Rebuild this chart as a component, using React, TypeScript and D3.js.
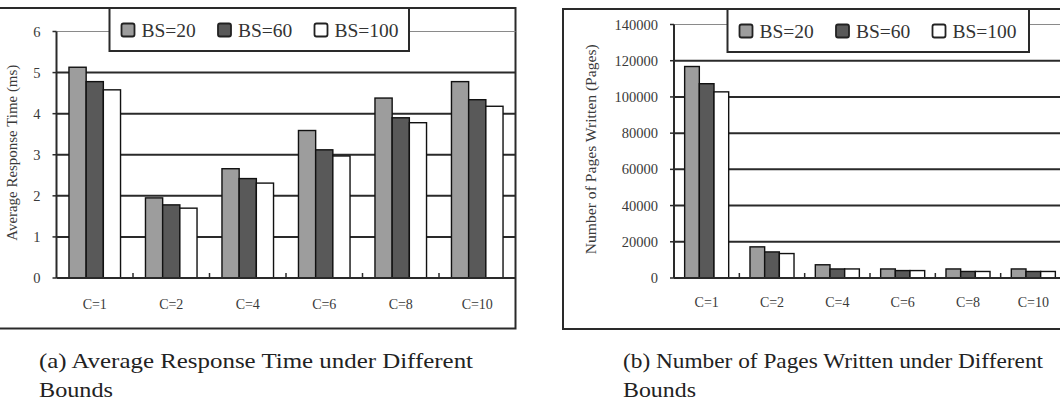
import React from "react";
import * as d3 from "d3";

// categories shared by both charts
const categories = ["C=1", "C=2", "C=4", "C=6", "C=8", "C=10"];
const seriesNames = ["BS=20", "BS=60", "BS=100"];
const seriesFills = ["#9d9d9d", "#595959", "#ffffff"];

// (a) average response time in ms
const responseBS20 = [5.13, 1.95, 2.66, 3.59, 4.38, 4.78];
const responseBS60 = [4.78, 1.78, 2.42, 3.12, 3.9, 4.34];
const responseBS100 = [4.58, 1.7, 2.31, 2.97, 3.78, 4.18];
const responseTicks = [0, 1, 2, 3, 4, 5, 6];

// (b) number of pages written
const pagesBS20 = [116800, 17200, 7300, 5000, 5000, 5000];
const pagesBS60 = [107300, 14400, 5000, 4100, 3600, 3600];
const pagesBS100 = [102800, 13500, 5000, 4100, 3600, 3600];
const pagesTicks = [0, 20000, 40000, 60000, 80000, 100000, 120000, 140000];

const serif = { fontFamily: "Liberation Serif" };
const INK = "#2a2a2a";

type Box = { x0: number; y0: number; x1: number; y1: number };

type PanelProps = {
  series: number[][];
  ticks: number[];
  yLabel: string;
  yLabelLength: number;
  yLabelX: number;
  caption: string[];
  captionX: number;
  captionLengths: number[];
  frame: Box;
  plot: Box;
  legendBox: Box;
  xLabelY: number;
};

const Panel = (p: PanelProps) => {
  const { plot } = p;
  const x = d3.scaleBand<string>().domain(categories).range([plot.x0, plot.x1]);
  const inner = d3
    .scaleBand<string>()
    .domain(seriesNames)
    .range([x.bandwidth() * 0.163, x.bandwidth() * 0.837]);
  const y = d3
    .scaleLinear()
    .domain([0, d3.max(p.ticks) as number])
    .range([plot.y1, plot.y0]);
  const top = p.ticks[p.ticks.length - 1];

  return (
    <g>
      {/* outer frame */}
      <rect
        x={p.frame.x0}
        y={p.frame.y0}
        width={p.frame.x1 - p.frame.x0}
        height={p.frame.y1 - p.frame.y0}
        fill="#fff"
        stroke={INK}
        strokeWidth={2}
      />

      {/* grid lines */}
      {p.ticks.slice(1).map((t) => (
        <line
          key={t}
          x1={plot.x0}
          x2={plot.x1}
          y1={y(t)}
          y2={y(t)}
          stroke={t === top ? "#8a8a8a" : INK}
          strokeWidth={t === top ? 1.2 : 2}
        />
      ))}

      {/* y axis with ticks and labels */}
      <line x1={plot.x0} x2={plot.x0} y1={y(top)} y2={y(0)} stroke={INK} strokeWidth={2} />
      {p.ticks.map((t) => (
        <g key={t}>
          <line x1={plot.x0 - 4} x2={plot.x0} y1={y(t)} y2={y(t)} stroke={INK} strokeWidth={1.5} />
          <text
            x={plot.x0 - 16}
            y={y(t)}
            dy="0.35em"
            textAnchor="end"
            style={serif}
            fontSize={14.5}
            fill="#3a3a3a"
          >
            {t}
          </text>
        </g>
      ))}
      <text
        transform={`translate(${p.yLabelX},${(plot.y0 + plot.y1) / 2 - 2}) rotate(-90)`}
        textAnchor="middle"
        dy="0.35em"
        style={serif}
        fontSize={14}
        fill="#3a3a3a"
        textLength={p.yLabelLength}
        lengthAdjust="spacingAndGlyphs"
      >
        {p.yLabel}
      </text>

      {/* bars */}
      {categories.map((c, i) => (
        <g key={c} transform={`translate(${x(c)},0)`}>
          {seriesNames.map((s, j) => (
            <rect
              key={s}
              x={inner(s)}
              y={y(p.series[j][i])}
              width={inner.bandwidth()}
              height={y(0) - y(p.series[j][i])}
              fill={seriesFills[j]}
              stroke="#111"
              strokeWidth={1.4}
            />
          ))}
        </g>
      ))}

      {/* category axis */}
      <line x1={plot.x0} x2={plot.x1} y1={y(0)} y2={y(0)} stroke={INK} strokeWidth={2} />
      {categories.slice(1).map((c) => (
        <line
          key={c}
          x1={x(c)}
          x2={x(c)}
          y1={y(0)}
          y2={y(0) - 5}
          stroke={INK}
          strokeWidth={1.5}
        />
      ))}
      {categories.map((c) => (
        <text
          key={c}
          x={(x(c) as number) + x.bandwidth() / 2}
          y={p.xLabelY}
          textAnchor="middle"
          style={serif}
          fontSize={14}
          fill="#3a3a3a"
        >
          {c}
        </text>
      ))}

      {/* legend */}
      <rect
        x={p.legendBox.x0}
        y={p.legendBox.y0}
        width={p.legendBox.x1 - p.legendBox.x0}
        height={p.legendBox.y1 - p.legendBox.y0}
        fill="#fff"
        stroke={INK}
        strokeWidth={2}
      />
      {seriesNames.map((s, j) => {
        const lx = p.legendBox.x0 + [12, 108.5, 205][j];
        const cy = (p.legendBox.y0 + p.legendBox.y1) / 2 + 0.5;
        return (
          <g key={s}>
            <rect
              x={lx}
              y={cy - 6.5}
              width={13}
              height={13}
              rx={2}
              fill={seriesFills[j]}
              stroke="#222"
              strokeWidth={1.8}
            />
            <text x={lx + 20} y={cy + 6.5} style={serif} fontSize={19.5} fill="#333">
              {s}
            </text>
          </g>
        );
      })}

      {/* caption */}
      {p.caption.map((line, k) => (
        <text
          key={k}
          x={p.captionX}
          y={367.5 + k * 29.5}
          style={serif}
          fontSize={21.5}
          fill="#222"
          textLength={p.captionLengths[k]}
          lengthAdjust="spacingAndGlyphs"
        >
          {line}
        </text>
      ))}
    </g>
  );
};

export default function App() {
  return (
    <svg
      width={1060}
      height={404}
      style={{ position: "absolute", left: 0, top: 0, background: "#fff" }}
    >
      <Panel
        series={[responseBS20, responseBS60, responseBS100]}
        ticks={responseTicks}
        yLabel="Average Response Time (ms)"
        yLabelLength={176}
        yLabelX={12}
        caption={["(a) Average Response Time under Different", "Bounds"]}
        captionX={39}
        captionLengths={[434, 74]}
        frame={{ x0: -2, y0: 8, x1: 515.5, y1: 328.5 }}
        plot={{ x0: 56.5, y0: 31.5, x1: 515.5, y1: 278 }}
        legendBox={{ x0: 109.5, y0: 8, x1: 409, y1: 51 }}
        xLabelY={309}
      />
      <Panel
        series={[pagesBS20, pagesBS60, pagesBS100]}
        ticks={pagesTicks}
        yLabel="Number of Pages Written (Pages)"
        yLabelLength={210}
        yLabelX={591}
        caption={["(b) Number of Pages Written under Different", "Bounds"]}
        captionX={623}
        captionLengths={[420, 73]}
        frame={{ x0: 563, y0: 9, x1: 1064, y1: 329 }}
        plot={{ x0: 674, y0: 24.5, x1: 1066, y1: 278 }}
        legendBox={{ x0: 727.5, y0: 9, x1: 1029, y1: 52 }}
        xLabelY={307}
      />
    </svg>
  );
}
